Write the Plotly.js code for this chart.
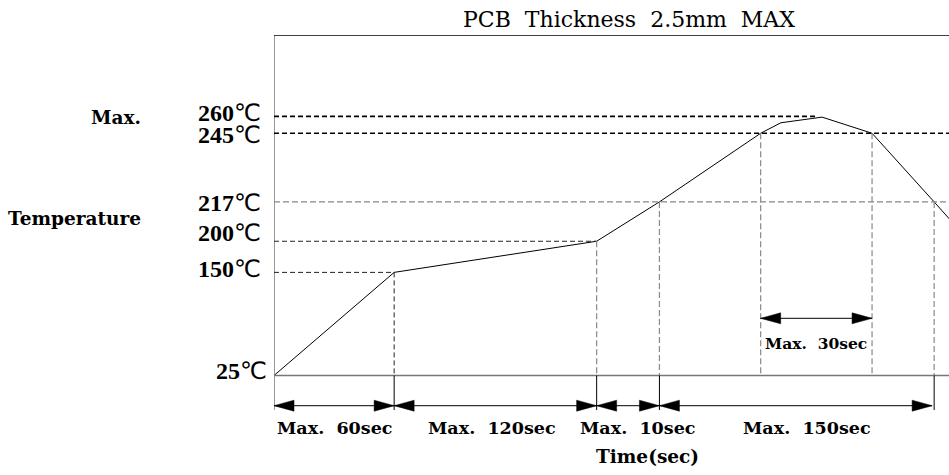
<!DOCTYPE html>
<html>
<head>
<meta charset="utf-8">
<script src="https://cdn.plot.ly/plotly-3.0.1.min.js"></script>
<style>html,body{margin:0;padding:0;background:#fff;}#chart{width:949px;height:475px;}</style>
</head>
<body>
<div id="chart"></div>
<script>
// ---- Data read from the (not-to-scale) schematic; units are % of the plot box ----
const tempValues = [25, 150, 200, 217, 245, 260];
const tempLevels = [9.2, 36.7, 45.0, 55.5, 73.8, 78.3];

// reflow profile (schematic x, schematic y)
const profileX = [0, 17.8, 47.8, 57.1, 72.1, 75.1, 81.2, 88.6, 97.8, 104];
const profileY = [9.2, 36.7, 45.0, 55.5, 73.8, 76.6, 78.1, 73.8, 55.5, 43.0];

// time phases along the bottom
const phaseBounds = [0, 17.8, 47.8, 57.1, 97.8];
const phaseLabels = ['Max.\u00a0 60sec', 'Max.\u00a0 120sec', 'Max.\u00a0 10sec', 'Max.\u00a0 150sec'];
const phaseLabelX = [8.9, 32.3, 53.9, 78.9];

// time above 245℃ window
const peakWindow = [72.1, 88.6];
const peakLabel = 'Max.\u00a0 30sec';
const peak260EndX = 80.4;

// ---- style / geometry helpers ----
const L = 274, T = 35, W = 675, H = 395, UNITY = 3.75, UNITX = W / 100;
const yBottom = -20 / UNITY;
const pxX = p => p / UNITX, pxY = p => p / UNITY;
const paperX = px => (px - L) / W;
const paperY = py => (T + H - py) / H;
// per-label nudges (px) so each temperature label sits like in the drawing
const tempLabelDy = [5, 3, 8, -1.5, -1.5, 3];
const tempLabelDx = [6, 0, 0, 0, 0, 0];

const degSign = '<span style="font-family:\'DejaVu Sans\';font-weight:normal">℃</span>';

const shapes = [];
function line(x0, y0, x1, y1, color, width, dash) {
  shapes.push({type: 'line', xref: 'x', yref: 'y', x0, y0, x1, y1,
    line: {color, width, dash: dash || 'solid'}, layer: 'above'});
}
function head(x, y, dir) {
  const hl = pxX(20), hh = pxY(5.5);
  shapes.push({type: 'path', xref: 'x', yref: 'y',
    path: `M ${x},${y} L ${x + dir * hl},${y + hh} L ${x + dir * hl},${y - hh} Z`,
    fillcolor: '#000', line: {color: '#000', width: 0.5}, layer: 'above'});
}
function dblArrow(x0, x1, y) {
  line(x0, y, x1, y, '#000', 1);
  head(x0, y, 1);
  head(x1, y, -1);
}

const base = tempLevels[0];
// frame
line(0, 0, 0, 100, '#777', 1.5);
line(0, 100, 100, 100, '#000', 1.5);
line(0, base, 100, base, '#777', 1.5);

// horizontal reference lines
const blackDash = '5px,3px', greyDash = '6px,3px';
line(0, tempLevels[5], peak260EndX, tempLevels[5], '#000', 1.6, blackDash);
line(0, tempLevels[4], 100, tempLevels[4], '#000', 1.6, blackDash);
line(0, tempLevels[3], 100, tempLevels[3], '#888', 1.2, greyDash);
line(0, tempLevels[2], profileX[2], tempLevels[2], '#222', 1, blackDash);
line(0, tempLevels[1], profileX[1], tempLevels[1], '#222', 1, blackDash);

// vertical drop lines from profile points to the baseline
line(profileX[1], profileY[1], profileX[1], base, '#222', 1, blackDash);
[2, 3, 4, 7, 8].forEach(i => line(profileX[i], profileY[i], profileX[i], base, '#888', 1.2, greyDash));

// phase ticks & arrows
phaseBounds.slice(1).forEach(x => line(x, base, x, 0, '#000', 1));
const arrowY = pxY(4.3);
for (let i = 0; i < phaseLabels.length; i++) {
  const x0 = phaseBounds[i], x1 = phaseBounds[i + 1] - (i === phaseLabels.length - 1 ? pxX(2) : 0);
  dblArrow(x0, x1, arrowY);
}
// 30 sec window arrow
const winArrowY = pxY(410 - 318.3);
dblArrow(peakWindow[0], peakWindow[1], winArrowY);

const boldFont = {family: 'DejaVu Serif', size: 17.5, color: '#000', weight: 'bold'};
const tempFont = {family: 'Liberation Serif', size: 24, color: '#000', weight: 'bold'};
const annotations = [];
tempValues.forEach((v, i) => annotations.push({
  x: paperX(263), y: tempLevels[i], xref: 'paper', yref: 'y', text: v + degSign, showarrow: false,
  font: tempFont, xanchor: 'right', yanchor: 'middle', xshift: tempLabelDx[i], yshift: tempLabelDy[i]}));
phaseLabels.forEach((t, i) => annotations.push({
  x: phaseLabelX[i], y: paperY(428), xref: 'x', yref: 'paper', text: t, showarrow: false,
  font: boldFont, xanchor: 'center', yanchor: 'middle'}));
annotations.push({x: (peakWindow[0] + peakWindow[1]) / 2, y: paperY(343), xref: 'x', yref: 'paper',
  text: peakLabel, showarrow: false, font: Object.assign({}, boldFont, {size: 15.5}), xanchor: 'center', yanchor: 'middle'});
annotations.push({x: paperX(647), y: paperY(457), xref: 'paper', yref: 'paper', text: 'Time(sec)', showarrow: false,
  font: Object.assign({}, boldFont, {size: 18.5}), xanchor: 'center', yanchor: 'middle'});
annotations.push({x: paperX(143), y: paperY(117), xref: 'paper', yref: 'paper', text: 'Max.', showarrow: false,
  font: Object.assign({}, boldFont, {size: 18.5}), xanchor: 'right', yanchor: 'middle'});
annotations.push({x: paperX(143), y: paperY(218), xref: 'paper', yref: 'paper', text: 'Temperature', showarrow: false,
  font: Object.assign({}, boldFont, {size: 18.5}), xanchor: 'right', yanchor: 'middle'});

const trace = {x: profileX, y: profileY, type: 'scatter', mode: 'lines',
  line: {color: '#000', width: 1}, hoverinfo: 'skip', showlegend: false};

const layout = {
  width: 949, height: 475,
  margin: {l: L, r: 0, t: T, b: 475 - T - H, pad: 0},
  paper_bgcolor: '#fff', plot_bgcolor: '#fff',
  title: {text: 'PCB\u00a0 Thickness\u00a0 2.5mm\u00a0 MAX', xref: 'paper', x: paperX(629), xanchor: 'center',
    yref: 'container', y: 1 - 19 / 475, yanchor: 'middle',
    font: {family: 'DejaVu Serif', size: 22, color: '#000'}},
  xaxis: {range: [0, 100], showgrid: false, zeroline: false, showline: false, showticklabels: false, ticks: ''},
  yaxis: {range: [yBottom, 100], showgrid: false, zeroline: false, showline: false, ticks: '',
    showticklabels: false},
  shapes, annotations
};
Plotly.newPlot('chart', [trace], layout, {displayModeBar: false, staticPlot: true});
</script>
</body>
</html>
